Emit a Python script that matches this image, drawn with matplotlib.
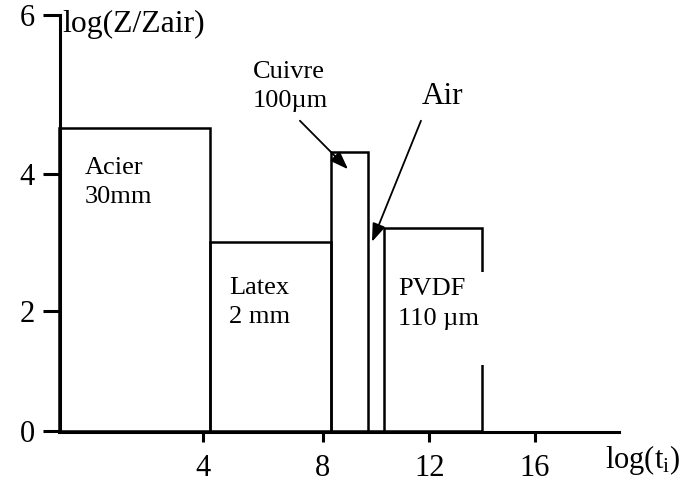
import matplotlib
matplotlib.use("Agg")
import matplotlib.pyplot as plt
import numpy as np

plt.rcParams["font.family"] = ["Liberation Serif", "DejaVu Serif"]
plt.rcParams["mathtext.fontset"] = "custom"
plt.rcParams["mathtext.rm"] = "Liberation Serif"
plt.rcParams["mathtext.it"] = "Liberation Serif"

# layer stack: extent along log(t) and acoustic impedance level
layers = ["Acier", "Latex", "Cuivre", "Air", "PVDF"]
t_start = [0.0, 4.23, 8.30, 9.68, 10.29]
t_end = [4.23, 8.30, 9.68, 10.29, 14.0]
log_z = [4.58, 3.0, 4.28, 0.0, 3.21]

x_ticks = [4, 8, 12, 16]
y_ticks = [0, 2, 4, 6]

# ticks are not evenly spaced on the sketch axes: piecewise-linear scales
x_knots = [-4, 0, 4, 8, 12, 16, 24]
x_span = [-84.0, 59.5, 203.0, 323.0, 429.5, 535.0, 746.0]
y_knots = [-2, 0, 2, 4, 6, 8]
y_span = [-552.0, -431.5, -311.0, -174.0, -15.0, 144.0]


def x_fwd(v):
    return np.interp(v, x_knots, x_span)


def x_inv(v):
    return np.interp(v, x_span, x_knots)


def y_fwd(v):
    return np.interp(v, y_knots, y_span)


def y_inv(v):
    return np.interp(v, y_span, y_knots)


W, H = 683, 484
fig = plt.figure(figsize=(W / 100, H / 100), dpi=100)
ax = fig.add_axes([59.5 / W, (H - 431.5) / H, (619.4 - 59.5) / W, (431.5 - 15) / H])
ax.set_xscale("function", functions=(x_fwd, x_inv))
ax.set_yscale("function", functions=(y_fwd, y_inv))
ax.set_xlim(0, 19.2)
ax.set_ylim(0, 6)

widths = np.array(t_end) - np.array(t_start)
ax.bar(t_start, log_z, width=widths, align="edge", fill=False,
       edgecolor="black", linewidth=1.8, zorder=2, clip_on=False)

for side in ("top", "right"):
    ax.spines[side].set_visible(False)
for side in ("left", "bottom"):
    ax.spines[side].set_linewidth(2.2)
    ax.spines[side].set_zorder(3)

ax.set_xticks(x_ticks)
ax.set_xticklabels([str(t) for t in x_ticks])
ax.set_yticks(y_ticks)
ax.set_yticklabels([str(t) for t in y_ticks])
ax.xaxis.set_minor_locator(matplotlib.ticker.NullLocator())
ax.yaxis.set_minor_locator(matplotlib.ticker.NullLocator())
ax.tick_params(axis="x", direction="out", length=7, width=2.2, pad=9, labelsize=22)
ax.tick_params(axis="y", direction="out", length=12.6, width=2.2, pad=5, labelsize=22)

# multi-line labels are anchored on the baseline of their last line
fs = 19
ls = 1.42
ax.text(0.71, 3.58, "Acier\n30mm", fontsize=fs, ha="left", va="baseline", linespacing=ls)
ax.text(4.87, 1.80, "Latex\n2 mm", fontsize=fs, ha="left", va="baseline", linespacing=ls)
ax.text(10.82, 1.29, "PVDF\n110 µm\n", fontsize=fs, ha="left", va="baseline",
        linespacing=ls, zorder=4,
        bbox=dict(facecolor="white", edgecolor="none", boxstyle="square,pad=0.25"))
ax.text(5.67, 4.84, "Cuivre\n100µm", fontsize=fs, ha="left", va="baseline",
        linespacing=ls, clip_on=False)
ax.text(11.72, 4.88, "Air", fontsize=22.5, ha="left", va="baseline")

ax.text(0.07, 5.79, "log(Z/Zair)", fontsize=22.8, ha="left", va="baseline", clip_on=False)
ax.text(18.65, -0.61, r"log(t$_{\mathrm{i}}$)", fontsize=22, ha="left", va="baseline",
        clip_on=False)

arrow = dict(arrowstyle="-|>,head_length=0.55,head_width=0.2", color="black",
             lw=1.3, shrinkA=0, shrinkB=0, mutation_scale=20)
ax.annotate("", xy=(8.94, 4.06), xytext=(7.23, 4.67), arrowprops=arrow)
ax.annotate("", xy=(9.84, 3.01), xytext=(11.68, 4.67), arrowprops=arrow)

fig.savefig("out.png", dpi=100)
